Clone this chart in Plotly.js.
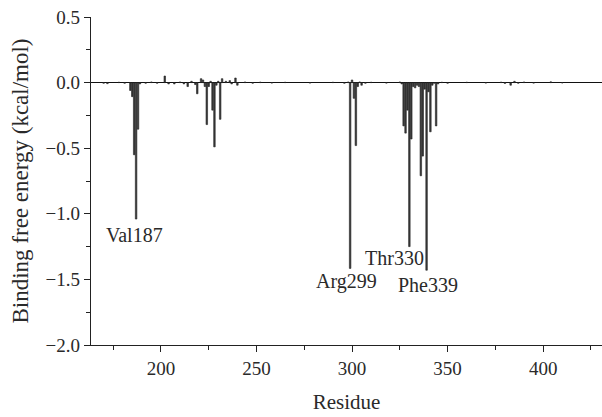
<!DOCTYPE html>
<html>
<head>
<meta charset="utf-8">
<script src="https://cdn.plot.ly/plotly-3.0.1.min.js"></script>
<style>html,body{margin:0;padding:0;background:#fff;}#chart{width:602px;height:417px;}</style>
</head>
<body>
<div id="chart"></div>
<script>
const residues = [170,172,178,181,184,185,186,187,188,189,192,195,198,202,204,207,210,212,214,216,218,219,221,222,223,224,225,226,227,228,229,230,231,232,234,236,237,239,240,244,248,252,258,265,278,290,296,298,299,300,301,302,303,304,305,307,310,318,325,326,327,328,329,330,331,332,333,334,335,336,337,338,339,340,341,342,343,344,345,347,350,360,370,378,380,383,385,387,390,395,404,410];
const energies = [-0.005,-0.008,0.003,-0.005,-0.06,-0.107,-0.55,-1.04,-0.355,-0.01,-0.005,0.005,-0.005,0.05,-0.01,-0.01,0.005,-0.01,-0.03,0.01,-0.015,-0.085,0.03,0.02,-0.03,-0.32,-0.03,0.01,-0.21,-0.49,-0.02,0.01,-0.28,0.03,0.01,0.015,-0.01,0.035,-0.02,0.005,-0.005,0.004,-0.004,0.003,-0.004,0.003,-0.005,0.005,-1.416,0.02,-0.12,-0.48,-0.03,0.005,-0.02,-0.005,0.003,-0.004,0.005,-0.01,-0.33,-0.385,-0.21,-1.25,-0.43,-0.03,-0.04,-0.02,-0.03,-0.71,-0.56,-0.05,-1.43,-0.07,-0.375,-0.02,-0.005,-0.33,-0.01,0.003,-0.005,0.003,-0.004,0.004,-0.006,-0.02,0.01,-0.005,0.005,-0.004,0.006,-0.003];
const labelTexts = ["Val187","Arg299","Thr330","Phe339"];
const labelX = [186.3,297.2,322.4,340];
const labelY = [-1.16,-1.515,-1.34,-1.54];

const fam = '"Liberation Serif","DejaVu Serif",serif';
const tickFont = {family:fam, size:19, color:'#2a2a2a'};
const labelFont = {family:fam, size:20, color:'#2a2a2a'};

const trace = {
  type:'bar', x:residues, y:energies, width:0.8,
  marker:{color:'#3a3a3a', line:{color:'#222', width:0.6}},
  hoverinfo:'x+y'
};

const annotations = labelTexts.map((t,i)=>({
  x:labelX[i], y:labelY[i], text:t, showarrow:false,
  xref:'x', yref:'y', font:labelFont, xanchor:'center', yanchor:'middle'
}));

const layout = {
  width:602, height:417,
  margin:{l:91, r:0, t:17, b:72},
  paper_bgcolor:'#fff', plot_bgcolor:'#fff',
  font:tickFont, showlegend:false, bargap:0,
  xaxis:{
    range:[163.4,430.8], showgrid:false, zeroline:false,
    showline:true, linecolor:'#222', linewidth:1.2,
    ticks:'outside', ticklen:6, tickwidth:1, tickcolor:'#222',
    tickfont:tickFont,
    tickvals:[200,250,300,350,400], ticktext:['200','250','300','350','400'],
    minor:{tickvals:[175,225,275,325,375,425], ticks:'outside', ticklen:4, tickcolor:'#222'},
    title:{text:'Residue', font:{family:fam, size:21, color:'#2a2a2a'}, standoff:16}
  },
  yaxis:{
    range:[-2.0,0.5], showgrid:false,
    zeroline:true, zerolinecolor:'#111', zerolinewidth:1.6,
    showline:true, linecolor:'#222', linewidth:1.2,
    ticks:'outside', ticklen:6, tickwidth:1, tickcolor:'#222',
    tickfont:tickFont,
    tickvals:[0.5,0,-0.5,-1,-1.5,-2], ticktext:['0.5','0.0','\u22120.5','\u22121.0','\u22121.5','\u22122.0'],
    minor:{tickvals:[0.25,-0.25,-0.75,-1.25,-1.75], ticks:'outside', ticklen:4, tickcolor:'#222'},
    title:{text:'Binding free energy (kcal/mol)', font:{family:fam, size:23, color:'#2a2a2a'}, standoff:10}
  },
  annotations:annotations
};

Plotly.newPlot('chart',[trace],layout,{displayModeBar:false, staticPlot:true});
</script>
</body>
</html>
